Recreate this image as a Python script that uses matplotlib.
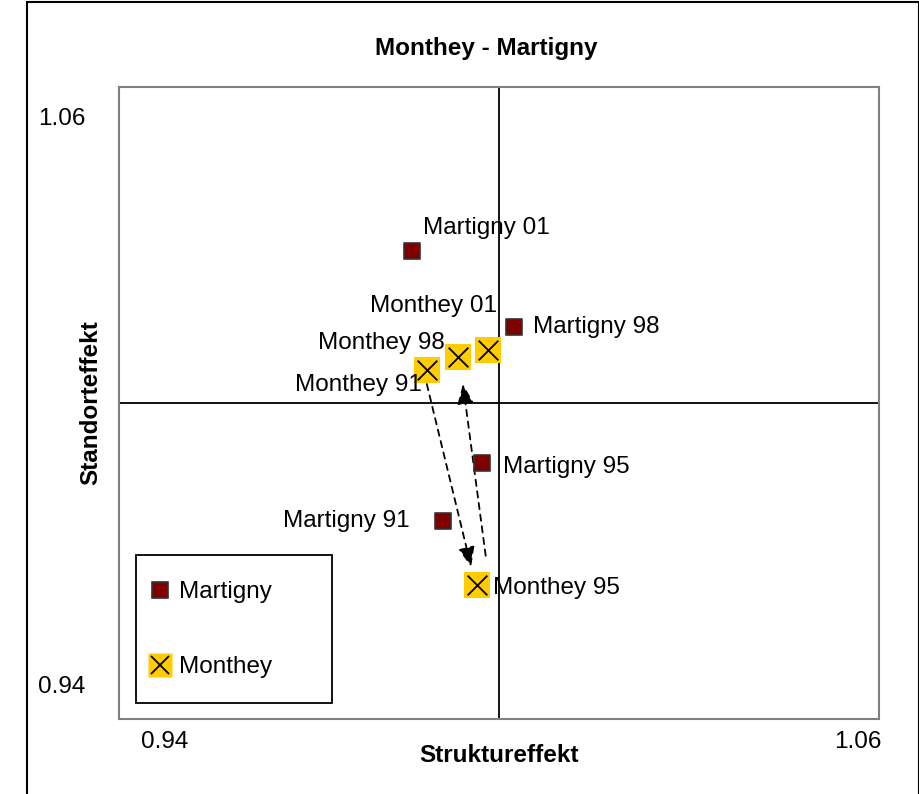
import matplotlib
matplotlib.use("Agg")
import matplotlib.pyplot as plt
from matplotlib.patches import Rectangle
from matplotlib.legend_handler import HandlerTuple
from matplotlib.lines import Line2D

plt.rcParams['font.family'] = ['Liberation Sans', 'DejaVu Sans']

# Data
martigny_labels = ["Martigny 01", "Martigny 98", "Martigny 95", "Martigny 91"]
martigny_x = [0.9863, 1.0024, 0.9973, 0.9912]
martigny_y = [1.0289, 1.0144, 0.9886, 0.9776]

monthey_labels = ["Monthey 01", "Monthey 98", "Monthey 91", "Monthey 95"]
monthey_x = [0.9983, 0.9935, 0.9886, 0.9965]
monthey_y = [1.0101, 1.0087, 1.0063, 0.9654]

# arrows (start -> end) in data coordinates
arrow_starts = [(0.9886, 1.0036), (0.9979, 0.9710)]
arrow_ends = [(0.9956, 0.9689), (0.9943, 1.0036)]

axis_min, axis_max, axis_cross = 0.94, 1.06, 1.0
tick_texts = ["0.94", "1.06"]

W, H = 920, 794
fig = plt.figure(figsize=(W / 100, H / 100), dpi=100)

# outer chart border
fig.patches.append(Rectangle((27 / W, -0.01), (W - 28) / W, 1 - 2 / H + 0.01,
                             transform=fig.transFigure, fill=False,
                             edgecolor='black', linewidth=1.5, zorder=0))

ax = fig.add_axes([119 / W, 1 - 719 / H, 760 / W, 632 / H])
ax.set_xlim(axis_min, axis_max)
ax.set_ylim(axis_min, axis_max)
ax.set_xticks([])
ax.set_yticks([])
for s in ax.spines.values():
    s.set_color('#808080')
    s.set_linewidth(1.5)

ax.axhline(axis_cross, color='black', linewidth=1.3, zorder=1)
ax.axvline(axis_cross, color='black', linewidth=1.3, zorder=1)

# arrows
for (sx, sy), (ex, ey) in zip(arrow_starts, arrow_ends):
    ax.annotate("", xy=(ex, ey), xytext=(sx, sy),
                arrowprops=dict(arrowstyle='-|>,head_length=0.8,head_width=0.33',
                                mutation_scale=15,
                                linestyle=(0, (3.5, 3)), color='black', lw=1.3,
                                shrinkA=0, shrinkB=0), zorder=2)

# Martigny
ax.scatter(martigny_x, martigny_y, marker='s', s=130, facecolor='#800000',
           edgecolor='#333333', linewidth=1.2, zorder=3)
# Monthey
ax.scatter(monthey_x, monthey_y, marker='s', s=360, facecolor='#FFCC00',
           edgecolor='none', zorder=3)
ax.scatter(monthey_x, monthey_y, marker='x', s=200, color='black',
           linewidth=1.3, zorder=4)

fs = 17.5
m_offsets = [(11, 23, 'left'), (19, 0, 'left'), (21, -4, 'left'), (-34, 0, 'right')]
for lab, x, y, (dx, dy, ha) in zip(martigny_labels, martigny_x, martigny_y, m_offsets):
    ax.annotate(lab, (x, y), xytext=(dx, dy), textcoords='offset pixels',
                ha=ha, va='center', fontsize=fs)
mo_offsets = [(9, 44, 'right'), (-13, 14, 'right'), (-5, -15, 'right'), (16, -3, 'left')]
for lab, x, y, (dx, dy, ha) in zip(monthey_labels, monthey_x, monthey_y, mo_offsets):
    ax.annotate(lab, (x, y), xytext=(dx, dy), textcoords='offset pixels',
                ha=ha, va='center', fontsize=fs, zorder=5)

# legend
h_m = Line2D([], [], marker='s', markersize=11.5, markerfacecolor='#800000',
             markeredgecolor='#333333', markeredgewidth=1.2, linestyle='none')
h_bg = Line2D([], [], marker='s', markersize=17, markerfacecolor='#FFCC00',
              markeredgecolor='none', linestyle='none')
h_x = Line2D([], [], marker='x', markersize=13, color='black', linestyle='none',
             markeredgewidth=1.3)
leg = ax.legend([h_m, (h_bg, h_x)], ["Martigny", "Monthey"],
                handler_map={tuple: HandlerTuple(ndivide=1, pad=0)},
                loc='upper left', bbox_to_anchor=((150 - 119) / 760, (719 - 581) / 632),
                borderaxespad=0, borderpad=0, fontsize=fs, frameon=False,
                labelspacing=2.2, handletextpad=0.35, handlelength=0.85)
ax.add_patch(Rectangle(((136 - 119) / 760, (719 - 703) / 632), 196 / 760, 148 / 632,
                       transform=ax.transAxes, fill=False, edgecolor='black',
                       linewidth=1.3, zorder=5))

# tick texts
fig.text(62 / W, 1 - 119 / H, tick_texts[1], ha='center', va='center', fontsize=fs)
fig.text(62 / W, 1 - 687 / H, tick_texts[0], ha='center', va='center', fontsize=fs)
fig.text(165 / W, 1 - 742 / H, tick_texts[0], ha='center', va='center', fontsize=fs)
fig.text(858 / W, 1 - 742 / H, tick_texts[1], ha='center', va='center', fontsize=fs)

fig.text(486 / W, 1 - 48 / H, "Monthey - Martigny", ha='center', va='center',
         fontsize=fs, fontweight='bold')
fig.text(499 / W, 1 - 755 / H, "Struktureffekt", ha='center', va='center',
         fontsize=fs, fontweight='bold')
fig.text(91 / W, 1 - 403 / H, "Standorteffekt", ha='center', va='center',
         fontsize=fs, fontweight='bold', rotation=90)

fig.savefig("out.png", dpi=100)
